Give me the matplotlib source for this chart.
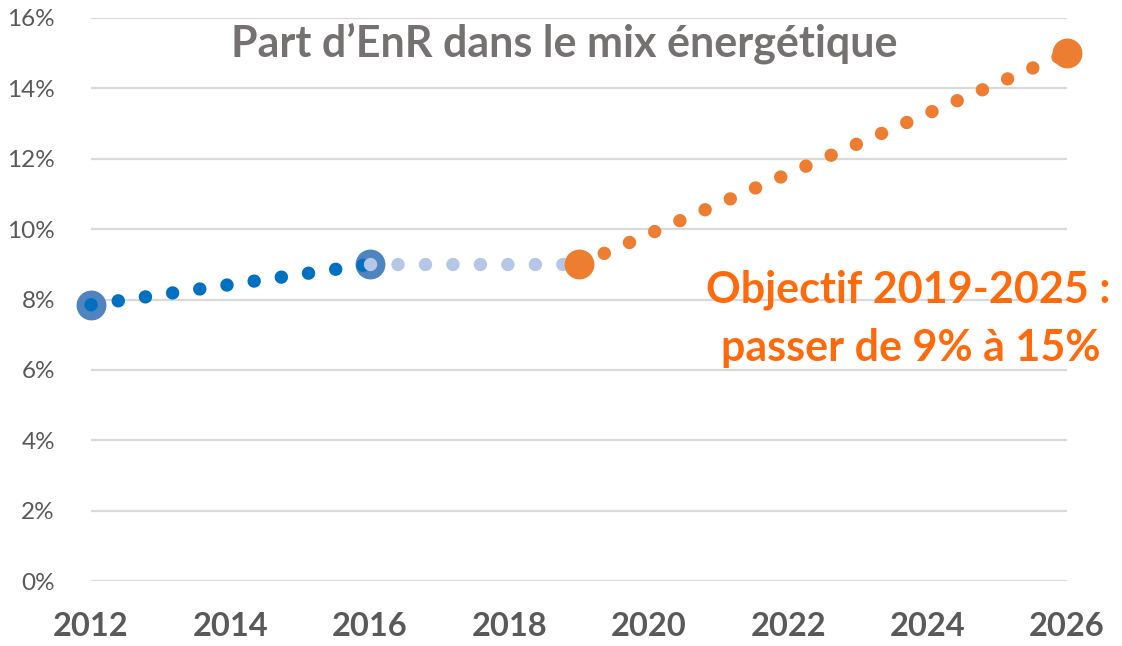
import matplotlib
matplotlib.use("Agg")
import matplotlib.pyplot as plt

# Data
years_hist = [2012, 2016]
share_hist = [7.85, 9.0]
years_gap = [2016, 2019]
share_gap = [9.0, 9.0]
years_target = [2019, 2026]
share_target = [9.0, 15.0]
xticks = [2012, 2014, 2016, 2018, 2020, 2022, 2024, 2026]
yticks = [0, 2, 4, 6, 8, 10, 12, 14, 16]
title = "Part d\u2019EnR dans le mix énergétique"
note_lines = ["Objectif 2019-2025 :", "passer de 9% à 15%"]

plt.rcParams['font.family'] = ['Lato', 'DejaVu Sans']

fig = plt.figure(figsize=(11.22, 6.46), dpi=100)
ax = fig.add_axes([91/1122, 1-581/646, (1067-91)/1122, (581-18)/646])

blue = '#0070C0'
light = '#B4C7E7'
orange = '#ED7D31'
steel = '#4E84BF'

lw = 9.6
dot = (0, (0.01, 2.05))
ms = 20.5

# historical series
ax.plot(years_hist, share_hist, ls='none', marker='o', ms=ms, color=steel, zorder=3)
ax.plot(years_hist, share_hist, ls=dot, lw=lw, color=blue, dash_capstyle='round', zorder=4)
# gap series
ax.plot(years_gap, share_gap, ls=dot, lw=lw, color=light, dash_capstyle='round', zorder=5)
# target series
ax.plot(years_target, share_target, ls=dot, lw=lw, color=orange, dash_capstyle='round', zorder=6)
ax.plot(years_target, share_target, ls='none', marker='o', ms=ms, color=orange, zorder=7)

ax.set_xlim(2012, 2026)
ax.set_ylim(0, 16)
ax.set_xticks(xticks)
ax.set_yticks(yticks)
ax.set_yticklabels([f"{v}%" for v in yticks])
ax.tick_params(axis='y', length=0, pad=26, labelsize=17.5, labelcolor='#595959')
ax.tick_params(axis='x', length=0, pad=22, labelsize=23.5, labelcolor='#595959')
for lbl in ax.get_xticklabels():
    lbl.set_fontweight('bold')
for s in ax.spines.values():
    s.set_visible(False)
ax.grid(axis='y', color='#D9D9D9', lw=1.6, zorder=0)
ax.set_axisbelow(True)
for line in ax.lines:
    line.set_clip_on(False)

fig.text(564/1122, 1-56/646, title, ha='center', va='baseline',
         fontsize=31, fontweight='bold', color='#767171')
fig.text(908/1122, 1-302/646, note_lines[0], ha='center', va='baseline',
         fontsize=31, fontweight='bold', color='#FF6A0D')
fig.text(911/1122, 1-361/646, note_lines[1], ha='center', va='baseline',
         fontsize=31, fontweight='bold', color='#FF6A0D')

fig.savefig('out.png', dpi=100)
